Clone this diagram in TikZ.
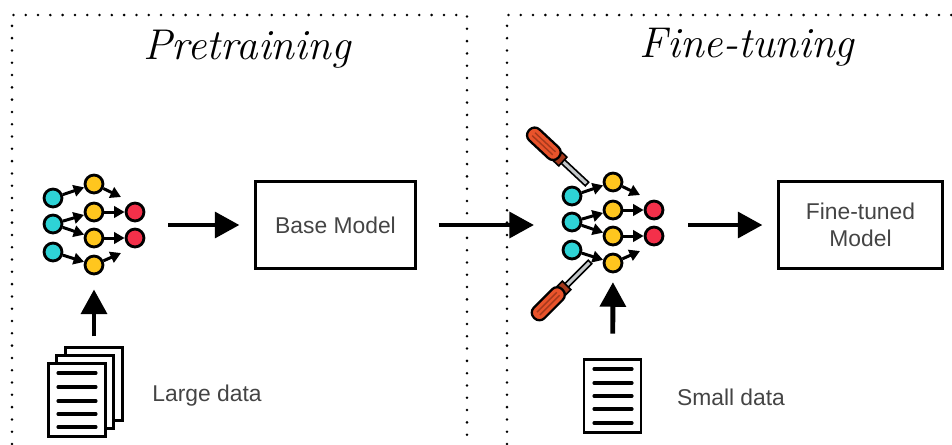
\documentclass[tikz,border=0pt]{standalone}
\usepackage{fontspec}
\setsansfont{Liberation Sans}
\usetikzlibrary{arrows.meta}
\definecolor{TealDot}{HTML}{2ED3D6}
\definecolor{GoldDot}{HTML}{FFC61E}
\definecolor{RedDot}{HTML}{F4304A}
\definecolor{HandleRed}{HTML}{E8532B}
\definecolor{CollarRed}{HTML}{A5391C}
\definecolor{ShaftGrey}{HTML}{C4C8CA}
\definecolor{LabelGrey}{HTML}{444444}
\tikzset{
  dot/.style={circle,draw=black,line width=1.6pt,minimum size=10.2pt,inner sep=0pt},
  small/.style={line width=1.7pt,-{Triangle[length=6pt,width=6.5pt]}},
  big/.style={line width=2.8pt,-{Triangle[length=14pt,width=14.5pt]}},
  panel/.style={line width=1.6pt,line cap=round,dash pattern=on 0pt off 7pt},
  modelbox/.style={draw=black,line width=1.3pt,minimum width=3.2cm,minimum height=1.74cm,
    align=center,font=\sffamily\fontsize{13}{15}\selectfont,text=LabelGrey},
  doc/.style={draw=black,fill=white,line width=1.6pt,minimum width=1.14cm,minimum height=1.46cm,inner sep=0pt},
  docline/.style={line width=1.8pt,line cap=round},
  label/.style={font=\sffamily\fontsize{13}{17}\selectfont,text=LabelGrey},
  title/.style={font=\itshape\fontsize{24.5}{28}\selectfont},
  driver/.pic={
    \draw[fill=ShaftGrey,line width=.9pt] (0,-2.5) -- (34,-2.5) -- (34,2.5) -- (0,2.5) -- cycle;
    \draw[fill=CollarRed,line width=.9pt] (33,-6) rectangle (40,6);
    \draw[fill=HandleRed,line width=1.3pt,rounded corners=4pt] (39,-7.5) rectangle (79,7.5);
    \draw[CollarRed,line width=.8pt] (45,-2) -- (73,-2) (45,2) -- (73,2);
  }
}
\newcommand{\NetDots}{%
  \foreach \n/\x/\y/\c in {t1/53/198/TealDot,t2/53/224/TealDot,t3/53/252/TealDot,
    y1/94/184/GoldDot,y2/94/212/GoldDot,y3/94/238/GoldDot,y4/94/265/GoldDot,
    r1/135/212/RedDot,r2/135/238/RedDot}{
    \node[dot,fill=\c] (\n) at (\x,\y) {};
  }
  \coordinate (e1) at (121,197);
  \coordinate (e4) at (121,253);
  % fleches du reseau
  \foreach \a/\b in {t1/y1,t2/y2,t2/y3,t3/y4,y2/r1,y3/r2,y1/e1,y4/e4}{
    \draw[small] (\a) -- (\b);
  }
}
\begin{document}
\begin{tikzpicture}[x=.02cm,y=-.02cm]
\useasboundingbox (0,0) rectangle (952,444);

% cadres pointilles
\draw[panel] (12,444) -- (12,15) -- (467,15) -- (467,444);
\draw[panel] (507,444) -- (507,15) -- (952,15);
\node[title] (pretrain) at (247,49) {Pretraining};
\node[title] (finetune) at (747,47) {Fine-tuning};

% reseau de gauche
\begin{scope}[name prefix=L-]
  \NetDots
\end{scope}
% reseau de droite
\begin{scope}[shift={(519,-2)},name prefix=R-]
  \NetDots
\end{scope}

% tournevis
\pic[shift={(587,184)},rotate=137] {driver};
\pic[shift={(590,262)},rotate=225] {driver};

\node[modelbox] (base) at (335.5,225) {Base Model};
\node[modelbox,minimum width=3.28cm] (tuned) at (860.5,225) {Fine-tuned\\Model};

% documents
\node[doc] (pile3) at (94,384) {};
\node[doc] (pile2) at (85,392) {};
\node[doc] (pile1) at (77,400) {};
\foreach \y in {373,387,401,414,427}{\draw[docline] (58,\y) -- (96,\y);}
\node[doc] (single) at (612.5,396) {};
\foreach \y in {369,383,396,409,423}{\draw[docline] (594,\y) -- (632,\y);}

\node[label] (large) at (207,396) {Large data};
\node[label] (small) at (731,397) {Small data};

\coordinate (L-out) at (168,225);
\coordinate (R-in) at (534,225);
\coordinate (R-out) at (688,225);

\draw[big,shorten >=8.5pt] (L-out) -- (base);
\draw[big,shorten <=12.5pt] (base) -- (R-in);
\draw[big,shorten >=8.5pt] (R-out) -- (tuned);
\draw[big,shorten <=5.5pt,shorten >=8pt] (pile3) -- (L-y4);
\draw[big,shorten <=14pt,shorten >=5pt] (single) -- (R-y4);
\end{tikzpicture}
\end{document}
